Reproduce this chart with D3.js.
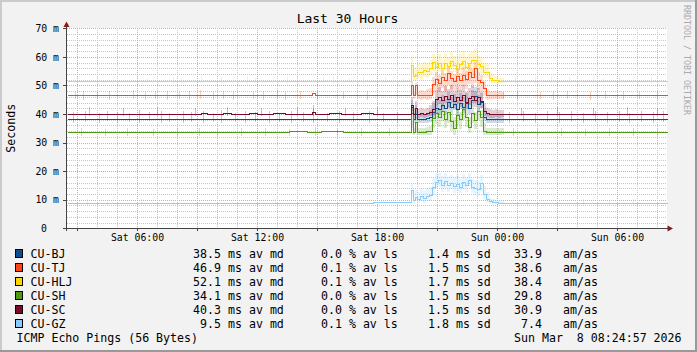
<!DOCTYPE html>
<html><head><meta charset="utf-8">
<script src="https://cdn.jsdelivr.net/npm/d3@7"></script>
<style>body{margin:0;background:#f2f2f2}svg{display:block}text{font-family:"DejaVu Sans Mono",monospace}</style>
</head><body><svg id="c" width="697" height="352"></svg>
<script>
// ---------- data ----------
const names   = ["CU-BJ","CU-TJ","CU-HLJ","CU-SH","CU-SC","CU-GZ"];
const colors  = ["#0D4D8D","#FF4411","#FFD700","#4F9A12","#7B0A2A","#88CCFF"];
const avgMed  = [38.5,46.9,52.1,34.1,40.3,9.5];
const avgLoss = [0.0,0.1,0.1,0.0,0.0,0.1];
const avgSd   = [1.4,1.5,1.7,1.5,1.5,1.8];
const amAs    = [33.9,38.6,38.4,29.8,30.9,7.4];
const yTicks  = [0,10,20,30,40,50,60,70];
const xLabelHours = [6,12,18,24,30];   // hours since Sat 00:00

// event sample hours (since Sat Mar 7 00:00)
const evH = [19.7,19.8,19.9,20.0,20.15,20.3,20.45,20.6,20.75,20.9,21.05,21.2,21.35,21.5,21.65,21.8,21.95,22.1,22.25,22.4,22.55,22.7,22.85,23.0,23.15,23.3,23.45,23.6,23.75,23.9,24.05,24.2];

// baseline change points [hour, median ms]
const bjBase  = [[2.5,38.25],[24.35,38.25]];
const tjBase  = [[2.5,46.55],[14.75,47.5],[14.9,46.55],[24.35,46.55]];
const hljBase = [[2.5,51.6],[24.35,51.6]];
const shBase  = [[2.5,33.6],[9.2,33.8],[9.6,33.6],[11.9,33.8],[12.5,33.65],[13.6,33.9],[14.5,33.7],[15.2,33.9],[16.3,33.75],[17.0,33.85],[18.0,33.7],[24.35,33.6]];
const scBase  = [[2.5,40.0],[9.2,40.2],[9.5,39.9],[10.3,40.2],[10.7,39.9],[11.6,40.25],[12.0,39.95],[12.8,40.2],[13.4,39.9],[14.75,40.8],[14.9,40.0],[15.6,40.2],[16.2,39.9],[17.2,40.2],[17.8,39.9],[24.35,40.1],[25.5,39.9],[27.0,40.1],[27.5,39.9]];
const gzBase  = [[2.5,8.7],[10.0,9.0],[12.4,8.85],[12.7,9.0],[17.8,9.25],[24.35,8.7]];

// event medians / smoke low / smoke high
const bjMed = [42.6,38.3,40.0,38.3,38.4,38.3,38.6,39.0,40.6,42.0,41.8,43.2,42.0,44.2,42.6,43.6,41.6,44.0,42.4,43.8,42.0,45.0,46.4,43.4,44.2,39.0,38.3,38.25,38.25,38.25,38.25,38.25];
const bjLo  = [40.0,36.8,38.4,36.8,36.8,36.8,37.0,37.2,38.6,40.0,39.8,41.0,40.0,42.0,40.4,41.4,39.6,41.8,40.2,41.6,40.0,42.8,44.0,41.2,42.0,37.4,36.8,36.8,36.8,36.8,36.8,36.8];
const bjHi  = [45.0,40.2,43.0,40.0,40.2,40.0,40.4,41.4,43.8,45.4,45.0,46.6,45.2,47.6,46.0,47.0,45.0,47.4,45.8,47.2,45.4,48.4,49.6,46.8,47.4,42.0,40.0,40.0,39.8,39.8,39.8,39.8];
const tjMed = [50.2,46.6,50.0,46.6,46.6,46.6,46.6,46.8,50.5,52.2,51.0,53.0,52.0,54.2,52.6,51.4,53.4,51.8,53.8,52.4,54.6,53.0,56.0,52.0,51.2,49.2,46.6,46.6,46.6,46.6,46.6,46.6];
const tjLo  = [47.0,45.2,46.8,45.2,45.0,45.4,45.0,45.2,47.0,48.4,47.6,49.0,48.2,50.0,48.8,47.6,49.4,48.0,49.8,48.6,50.4,49.0,51.0,48.4,47.8,46.2,45.0,45.2,45.2,45.4,45.2,45.4];
const tjHi  = [51.4,48.2,51.0,48.0,48.4,48.2,48.6,49.0,53.0,54.8,53.6,55.6,54.4,56.6,55.0,54.0,56.0,54.4,56.4,55.0,57.0,55.6,58.2,54.6,53.6,51.6,48.6,48.2,48.0,48.2,48.0,47.8];
const hljMed = [57.2,53.3,53.6,54.8,54.6,55.4,55.0,56.0,58.3,56.6,57.8,56.0,58.0,56.8,58.6,57.2,55.8,57.6,58.4,56.4,57.9,58.8,59.0,57.4,56.8,54.8,54.6,52.5,51.9,51.9,51.7,51.6];
const hljLo  = [53.5,51.5,51.8,52.5,52.4,53.0,52.6,53.5,55.0,54.0,54.8,53.5,55.0,54.2,55.5,54.6,53.2,54.8,55.4,53.8,55.0,55.8,56.0,54.6,54.0,52.6,52.5,51.0,50.8,51.0,51.0,51.0];
const hljHi  = [60.5,56.0,56.4,57.6,57.5,58.2,58.0,59.0,61.0,59.8,61.0,59.4,61.2,60.0,61.8,60.4,59.2,61.0,62.0,59.8,61.4,62.2,62.6,60.8,60.0,58.0,57.4,55.0,53.8,53.2,52.8,52.6];
const shMed = [40.2,33.8,37.2,33.8,33.8,33.8,33.9,34.0,38.6,40.2,39.0,41.0,38.4,40.6,37.4,35.0,39.6,38.2,41.6,39.0,35.6,40.4,38.0,41.2,38.8,34.0,33.7,33.6,33.6,33.6,33.6,33.6];
const shLo  = [35.0,32.6,33.4,32.6,32.6,32.6,32.8,32.8,35.0,36.4,35.6,37.6,35.0,37.0,34.2,32.8,36.0,34.8,38.0,35.6,33.4,37.0,34.8,37.8,35.4,32.8,32.6,32.6,32.6,32.6,32.6,32.6];
const shHi  = [42.0,35.2,39.0,35.0,35.2,35.0,35.4,35.8,41.0,42.6,41.6,43.4,41.0,43.0,40.4,38.8,42.0,40.8,44.0,41.6,39.0,42.8,40.6,43.6,41.4,36.8,35.2,35.0,35.0,35.0,35.0,35.0];
const scMed = [43.2,40.1,42.0,40.0,40.2,40.0,40.4,40.8,41.6,45.2,46.1,44.8,46.4,45.2,46.6,44.4,46.0,45.0,46.8,44.2,45.6,46.3,44.8,45.8,44.6,41.0,40.2,40.0,39.9,39.9,39.9,39.9];
const scLo  = [41.0,38.6,40.0,38.6,38.8,38.6,39.0,39.2,39.6,42.8,43.6,42.4,43.8,42.6,44.0,42.0,43.6,42.6,44.2,41.8,43.2,43.8,42.4,43.2,42.2,39.4,38.8,38.6,38.6,38.8,38.6,38.8];
const scHi  = [46.0,42.0,44.6,41.8,42.0,41.8,42.2,43.0,44.6,48.4,49.4,48.2,49.8,48.6,50.0,47.8,49.4,48.4,50.2,47.6,49.0,49.8,48.2,49.0,47.8,44.0,42.2,41.6,41.4,41.6,41.4,41.4];
const gzMed = [13.4,10.0,11.0,10.2,11.2,10.6,11.4,11.6,14.4,16.2,16.8,15.2,16.4,15.0,16.0,14.8,15.6,14.6,16.2,15.0,16.8,14.6,14.2,13.6,15.8,12.0,10.4,9.4,9.3,9.3,8.8,8.75];
const gzLo  = [11.0,8.8,9.4,8.8,9.4,9.0,9.6,9.8,12.0,13.8,14.4,12.8,14.0,12.6,13.6,12.4,13.2,12.2,13.8,12.6,14.4,12.2,11.8,11.4,13.2,10.2,9.0,8.6,8.6,8.6,8.4,8.4];
const gzHi  = [15.6,12.4,13.4,12.6,13.6,13.0,14.2,14.6,17.6,19.0,19.4,18.2,19.2,18.0,18.8,17.8,18.6,17.4,19.0,17.8,19.2,17.4,17.0,16.6,18.6,14.8,12.6,10.6,10.2,10.0,9.6,9.4];

// sparse smoke spikes outside the event [hour, low, high]
const bjSpk = [[2.8,37.0,40.6],[3.4,37.2,41.0],[4.1,37.0,40.4],[4.5,37.4,41.2],[5.0,37.0,40.8],[5.6,37.2,40.2],[6.1,37.0,41.4],[6.6,37.4,40.6],[7.2,37.0,41.0],[7.6,37.3,40.4],[8.3,37.0,41.2],[8.7,37.2,40.6],[9.3,37.0,41.0],[9.8,37.3,40.5],[10.2,37.0,41.3],[10.9,37.2,40.4],[11.4,37.0,40.9],[11.9,37.3,40.6],[12.6,37.0,41.2],[13.1,37.2,40.5],[13.7,37.0,41.0],[14.3,37.3,40.6],[14.8,37.0,41.6],[15.5,37.2,40.4],[16.1,37.0,41.0],[16.8,37.3,40.6],[17.6,37.0,41.1],[18.3,37.2,40.5],[19.0,37.0,40.8],[24.6,37.0,40.8],[25.3,37.2,41.0],[25.9,37.0,40.5],[26.5,37.3,41.2],[27.1,37.0,40.6],[27.7,37.2,41.0],[28.3,37.0,40.4],[28.9,37.3,41.1],[29.5,37.0,40.6],[30.1,37.2,41.0],[30.6,37.0,40.5],[31.2,37.3,41.2],[31.8,37.0,40.6],[32.3,37.2,40.9]];
const tjSpk = [[2.9,45.2,47.8],[3.3,45.0,48.2],[4.0,45.4,47.6],[4.6,45.0,48.0],[5.8,45.2,48.4],[6.4,45.0,47.8],[6.9,45.4,48.0],[7.5,45.0,48.2],[8.1,45.2,47.6],[8.6,45.0,48.0],[9.15,45.3,48.4],[9.8,45.0,47.8],[10.3,45.2,48.0],[10.8,45.0,48.2],[11.8,45.4,47.6],[12.3,45.0,48.0],[13.0,45.2,48.4],[13.4,45.0,47.8],[14.15,45.3,48.0],[15.0,45.0,48.2],[16.3,45.2,47.8],[17.5,45.0,48.0],[24.3,45.2,47.8],[25.0,45.0,48.2],[26.15,45.3,47.8],[26.8,45.0,48.0],[27.5,45.2,48.2],[28.65,45.0,47.8],[29.4,45.3,48.0],[30.3,45.0,48.2],[31.1,45.2,47.8],[32.0,45.0,48.0]];
const hljSpk = [[3.0,50.8,53.0],[4.0,50.6,52.8],[6.0,50.2,54.0],[6.5,50.8,52.6],[7.8,50.6,53.0],[8.2,50.9,52.6],[9.2,50.4,53.2],[10.2,50.8,52.8],[11.5,50.6,53.4],[11.9,50.9,52.5],[13.5,50.6,53.0],[14.0,50.4,53.6],[15.3,50.8,52.8],[15.8,50.6,53.2],[16.6,50.8,52.6],[17.3,50.6,53.0],[18.4,50.7,52.8],[19.3,50.8,52.6],[24.9,50.8,53.0],[25.9,50.6,52.8],[26.7,50.8,53.2],[27.6,50.6,52.8],[28.8,50.8,53.0],[29.3,50.7,52.6],[30.1,50.8,53.0],[31.7,50.6,52.8]];
const shSpk = [[3.2,32.2,35.0],[4.4,32.4,34.8],[5.5,32.2,35.2],[6.8,32.4,34.8],[8.0,32.2,35.0],[9.1,32.4,35.2],[10.0,32.2,34.8],[11.2,32.4,35.0],[12.4,32.2,35.2],[13.6,32.4,34.8],[14.9,32.2,35.4],[16.0,32.4,34.8],[17.2,32.2,35.0],[18.6,32.4,35.2],[24.8,32.2,35.0],[26.0,32.4,34.8],[27.2,32.2,35.2],[28.4,32.4,34.8],[29.6,32.2,35.0],[30.8,32.4,35.2],[32.0,32.2,34.8]];
const scSpk = [[3.6,39.2,42.4],[5.3,39.3,42.0],[7.0,39.2,42.6],[8.9,39.4,42.2],[10.5,39.2,42.4],[12.2,39.3,42.0],[14.0,39.2,42.6],[14.8,39.4,43.2],[16.4,39.2,42.2],[18.0,39.3,42.4],[25.2,39.2,42.2],[27.0,39.3,42.6],[28.8,39.2,42.0],[30.5,39.4,42.4],[32.0,39.2,42.2]];
const gzSpk = [[3.5,8.0,10.2],[4.5,8.1,10.0],[6.2,8.0,10.3],[7.8,8.1,10.0],[12.9,8.2,10.2],[25.5,8.0,10.1],[28.3,8.1,10.2],[29.6,8.0,10.0],[30.8,8.1,10.2]];

const seriesBase = [bjBase,tjBase,hljBase,shBase,scBase,gzBase];
const seriesMed  = [bjMed,tjMed,hljMed,shMed,scMed,gzMed];
const seriesLo   = [bjLo,tjLo,hljLo,shLo,scLo,gzLo];
const seriesHi   = [bjHi,tjHi,hljHi,shHi,scHi,gzHi];
const seriesSpk  = [bjSpk,tjSpk,hljSpk,shSpk,scSpk,gzSpk];

// ---------- drawing ----------
const svg = d3.select("#c");
const W = 697, H = 352;
const T0 = Date.UTC(2026,2,7,0,0);
const hd = h => new Date(T0 + h*3600e3);
const x = d3.scaleUtc().domain([hd(2.5), hd(32.5)]).range([67,667]);
const y = d3.scaleLinear().domain([0,70]).range([228.3,28.3]);
const xh = h => x(hd(h));
const px = v => Math.round(v) + 0.5;

// frame
svg.append("rect").attr("width",W).attr("height",H).attr("fill","#f2f2f2");
svg.append("path").attr("d",`M0,0H${W}V2H2V${H}H0Z`).attr("fill","#cbcbcb");
svg.append("path").attr("d",`M${W},0V${H}H0V${H-2}H${W-2}V0Z`).attr("fill","#999");
// canvas
svg.append("rect").attr("x",67).attr("y",28).attr("width",600).attr("height",200).attr("fill","#fff");

// grid
const g = svg.append("g").attr("shape-rendering","crispEdges");
for (let v=2; v<=70; v+=2) {
  const major = v%10===0;
  g.append("line").attr("x1",67).attr("x2",667).attr("y1",px(y(v))).attr("y2",px(y(v)))
   .attr("stroke", major ? "#eea0a0" : "#c6c6c6").attr("stroke-dasharray","1,1");
}
for (let h=3; h<=32; h++) {
  const major = h%3===0;
  g.append("line").attr("x1",px(xh(h))).attr("x2",px(xh(h))).attr("y1",28).attr("y2",228)
   .attr("stroke", major ? "#eea0a0" : "#c6c6c6").attr("stroke-dasharray","1,1");
}

// smoke
const sm = svg.append("g").attr("shape-rendering","crispEdges");
seriesMed.forEach((med,s)=>{
  const c = colors[s];
  seriesSpk[s].forEach(d=>{
    sm.append("rect").attr("x",Math.round(xh(d[0]))).attr("width",1)
      .attr("y",Math.round(y(d[2]))).attr("height",Math.round(y(d[1]))-Math.round(y(d[2]))).attr("fill",c).attr("opacity",0.3);
  });
  evH.forEach((h,i)=>{
    const h2 = i<evH.length-1 ? evH[i+1] : 24.35;
    sm.append("rect").attr("x",Math.round(xh(h))).attr("width",Math.round(xh(h2))-Math.round(xh(h)))
      .attr("y",Math.round(y(seriesHi[s][i]))).attr("height",Math.round(y(seriesLo[s][i]))-Math.round(y(seriesHi[s][i])))
      .attr("fill",c).attr("opacity",0.2);
  });
});

// median lines
const line = d3.line().x(d=>px(xh(d[0]))).y(d=>px(y(d[1]))).curve(d3.curveStepAfter);
seriesMed.forEach((med,s)=>{
  const base = seriesBase[s];
  const pre = base.filter(d=>d[0]<evH[0]);
  const post = base.filter(d=>d[0]>evH[evH.length-1]);
  const pts = [...pre, ...evH.map((h,i)=>[h,med[i]]), ...post];
  pts.push([32.5, pts[pts.length-1][1]]);
  svg.append("path").attr("d",line(pts)).attr("fill","none").attr("stroke",colors[s])
     .attr("stroke-width",1).attr("shape-rendering","crispEdges");
});

// axes
const xAxis = d3.axisBottom(x).tickValues(xLabelHours.map(hd)).tickFormat(d3.utcFormat("%a %H:%M")).tickSize(0).tickPadding(5.5);
const gx = svg.append("g").attr("transform","translate(0,228.3)").call(xAxis);
gx.select(".domain").remove();
gx.selectAll("text").attr("font-family","DejaVu Sans Mono").attr("font-size",9.8).attr("fill","#000");
const yAxis = d3.axisLeft(y).tickValues(yTicks).tickFormat(v=>v===0?"0":v+" m").tickSize(0).tickPadding(8);
const gy = svg.append("g").attr("transform","translate(67,0)").call(yAxis);
gy.select(".domain").remove();
gy.selectAll("text").attr("font-family","DejaVu Sans Mono").attr("font-size",9.8).attr("fill","#000")
  .attr("x",d=>d===0?-20:-8);

// axis lines, ticks and arrows
const ax = svg.append("g").attr("shape-rendering","crispEdges").attr("stroke","#444");
ax.append("line").attr("x1",63).attr("x2",668).attr("y1",228.5).attr("y2",228.5);
ax.append("line").attr("x1",66.5).attr("x2",66.5).attr("y1",231).attr("y2",26);
for (let h=3; h<=32; h+=3) ax.append("line").attr("x1",px(xh(h))).attr("x2",px(xh(h))).attr("y1",228).attr("y2",231);
yTicks.forEach(v=>ax.append("line").attr("x1",63).attr("x2",66).attr("y1",px(y(v))).attr("y2",px(y(v))));
svg.append("path").attr("d","M66.5,21.5L69.5,27L63.5,27Z").attr("fill","#8b1a1a");
svg.append("path").attr("d","M673,228.5L667.5,225.5L667.5,231.5Z").attr("fill","#8b1a1a");

// titles
svg.append("text").attr("x",347.5).attr("y",23.3).attr("text-anchor","middle").attr("font-size",13).text("Last 30 Hours");
svg.append("text").attr("transform","translate(14.5,128.3) rotate(-90)").attr("text-anchor","middle").attr("font-size",11.6).text("Seconds");
svg.append("text").attr("transform","translate(683.5,5) rotate(90)").attr("font-size",8.3).attr("fill","#aaa").text("RRDTOOL / TOBI OETIKER");

// legend
const f1 = d3.format(".1f");
names.forEach((n,i)=>{
  const by = 258 + i*14;
  svg.append("rect").attr("x",15.5).attr("y",by-8.5).attr("width",7).attr("height",8).attr("fill",colors[i]).attr("stroke","#000");
  const L = (xx,t,anchor)=>svg.append("text").attr("x",xx).attr("y",by).attr("font-size",11.6).attr("text-anchor",anchor||"start").style("white-space","pre").text(t);
  L(30.5,n);
  L(221,f1(avgMed[i]),"end");
  L(228,"ms av md");
  L(321,f1(avgLoss[i])+" % av ls");
  L(428,f1(avgSd[i])+" ms sd");
  L(542,f1(amAs[i]),"end");
  L(563,"am/as");
});
svg.append("text").attr("x",16.5).attr("y",342).attr("font-size",11.6).text("ICMP Echo Pings (56 Bytes)");
svg.append("text").attr("x",514).attr("y",342).attr("font-size",11.6).style("white-space","pre").text("Sun Mar  8 08:24:57 2026");
</script></body></html>
